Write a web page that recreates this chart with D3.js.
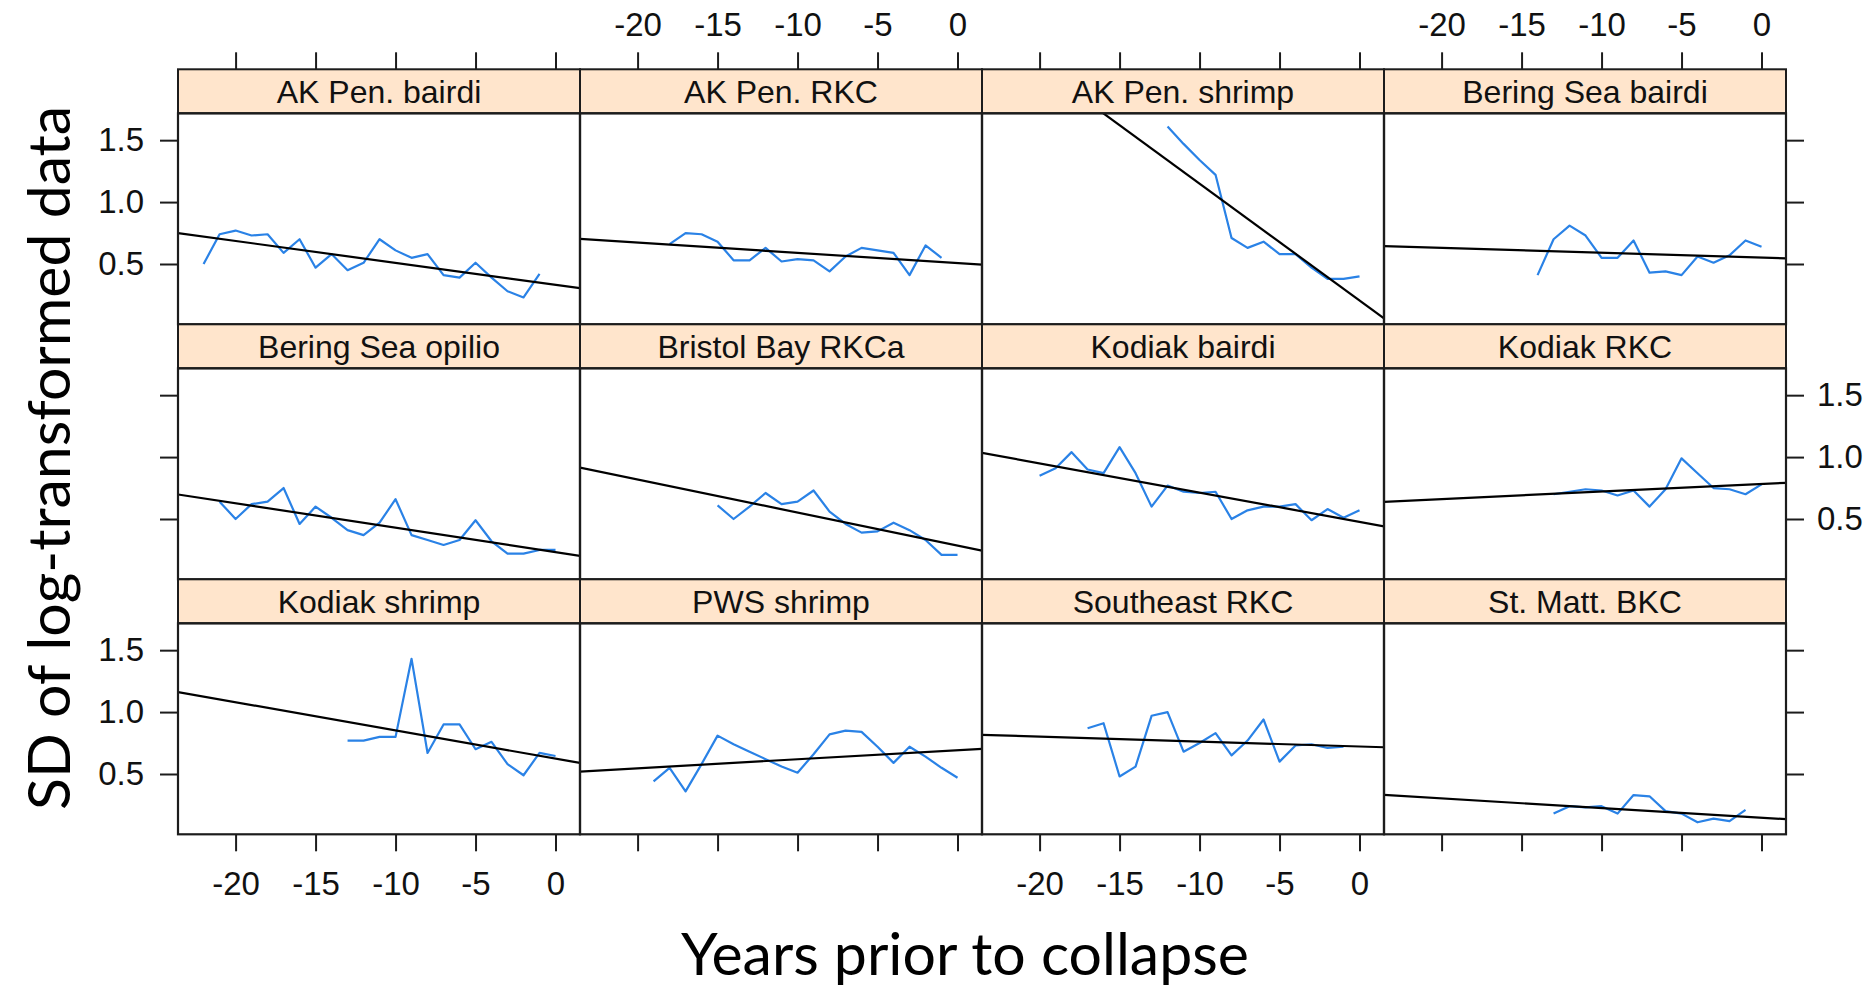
<!DOCTYPE html>
<html>
<head>
<meta charset="utf-8">
<script src="https://cdn.jsdelivr.net/npm/d3@7"></script>
<style>
  html, body { margin: 0; padding: 0; background: #ffffff; }
  svg { display: block; }
</style>
</head>
<body>
<svg id="chart" width="1876" height="987"></svg>
<script>
// ---- Data -------------------------------------------------------------
// Stock names, in panel order (left to right, top to bottom)
const panelNames = [
  "AK Pen. bairdi", "AK Pen. RKC", "AK Pen. shrimp", "Bering Sea bairdi",
  "Bering Sea opilio", "Bristol Bay RKCa", "Kodiak bairdi", "Kodiak RKC",
  "Kodiak shrimp", "PWS shrimp", "Southeast RKC", "St. Matt. BKC"
];

// First year (relative to collapse) of each yearly series
const startYears = [-22, -18, -12, -14, -21, -15, -20, -13, -13, -19, -17, -13];

// SD of log-transformed data, one value per year
const akPenBairdi     = [0.50, 0.74, 0.77, 0.73, 0.74, 0.59, 0.70, 0.47, 0.58, 0.45, 0.51, 0.70, 0.61, 0.55, 0.58, 0.41, 0.39, 0.51, 0.39, 0.28, 0.23, 0.42];
const akPenRKC        = [0.66, 0.75, 0.74, 0.68, 0.53, 0.53, 0.63, 0.52, 0.54, 0.53, 0.44, 0.56, 0.63, 0.61, 0.59, 0.41, 0.65, 0.55];
const akPenShrimp     = [1.61, 1.47, 1.34, 1.22, 0.71, 0.63, 0.68, 0.58, 0.58, 0.47, 0.38, 0.38, 0.40];
const beringBairdi    = [0.41, 0.70, 0.81, 0.73, 0.55, 0.55, 0.69, 0.43, 0.44, 0.41, 0.56, 0.51, 0.57, 0.69, 0.64];
const beringOpilio    = [0.64, 0.50, 0.62, 0.64, 0.75, 0.46, 0.60, 0.51, 0.41, 0.37, 0.47, 0.66, 0.37, 0.33, 0.29, 0.33, 0.49, 0.32, 0.22, 0.22, 0.25, 0.25];
const bristolBayRKCa  = [0.61, 0.50, 0.60, 0.71, 0.62, 0.64, 0.73, 0.56, 0.46, 0.39, 0.40, 0.47, 0.41, 0.33, 0.21, 0.21];
const kodiakBairdi    = [0.85, 0.91, 1.04, 0.90, 0.87, 1.08, 0.87, 0.60, 0.77, 0.72, 0.71, 0.72, 0.50, 0.57, 0.60, 0.60, 0.62, 0.49, 0.58, 0.51, 0.57];
const kodiakRKC       = [0.70, 0.72, 0.74, 0.73, 0.69, 0.73, 0.60, 0.74, 0.99, 0.87, 0.75, 0.74, 0.70, 0.78];
const kodiakShrimp    = [0.77, 0.77, 0.80, 0.80, 1.43, 0.67, 0.90, 0.90, 0.70, 0.76, 0.58, 0.49, 0.67, 0.645];
const pwsShrimp       = [0.44, 0.55, 0.36, 0.58, 0.81, 0.74, 0.68, 0.62, 0.56, 0.51, 0.66, 0.82, 0.85, 0.84, 0.72, 0.59, 0.72, 0.64, 0.55, 0.47];
const southeastRKC    = [0.87, 0.91, 0.48, 0.56, 0.97, 1.00, 0.68, 0.75, 0.83, 0.65, 0.77, 0.94, 0.60, 0.73, 0.74, 0.71, 0.72];
const stMattBKC       = [0.18, 0.24, 0.23, 0.24, 0.18, 0.33, 0.32, 0.20, 0.18, 0.11, 0.14, 0.12, 0.21];

// Fitted linear trend per stock: value at year 0 and change per year
const fitIntercepts = [0.332, 0.507, 0.205, 0.552, 0.233, 0.285, 0.477, 0.783, 0.624, 0.692, 0.722, 0.147];
const fitSlopes     = [-0.0177, -0.0083, -0.0944, -0.0039, -0.0197, -0.0267, -0.0236, 0.0061, -0.0228, 0.0073, -0.0040, -0.0078];

// Axis ticks and titles
const xTicks = [-20, -15, -10, -5, 0];
const yTicks = [0.5, 1.0, 1.5];
const xTitle = "Years prior to collapse";
const yTitle = "SD of log-transformed data";

const series = [
  akPenBairdi, akPenRKC, akPenShrimp, beringBairdi,
  beringOpilio, bristolBayRKCa, kodiakBairdi, kodiakRKC,
  kodiakShrimp, pwsShrimp, southeastRKC, stMattBKC
];

// ---- Layout -----------------------------------------------------------
const nCols = 4, nRows = 3;
const left = 178, panelW = 402;
const top0 = 69.3, rowPitch = 255, stripH = 44, panelH = 211;
const xDomain = [-23.6, 1.53];
const yDomain = [0.013, 1.717];

const ink = "#1c1c1c";
const stripFill = "#ffe5cc";
const lineBlue = "#2a82e6";
const tickFont = "'Liberation Sans', Arial, sans-serif";
const titleFont = "Lato, 'Open Sans', sans-serif";

const svg = d3.select("#chart");
const defs = svg.append("defs");

function xScaleFor(c) {
  const x0 = left + c * panelW;
  return d3.scaleLinear().domain(xDomain).range([x0, x0 + panelW]);
}
function yScaleFor(r) {
  const py = top0 + r * rowPitch + stripH;
  return d3.scaleLinear().domain(yDomain).range([py + panelH, py]);
}

const line = (x, y) => d3.line().x(d => x(d.year)).y(d => y(d.value));

series.forEach((vals, i) => {
  const c = i % nCols, r = Math.floor(i / nCols);
  const x = xScaleFor(c), y = yScaleFor(r);
  const x0 = x.range()[0];
  const sy = top0 + r * rowPitch, py = sy + stripH;

  const g = svg.append("g").attr("class", "panel");

  // clip region for the plotting area
  const clipId = "clip" + i;
  defs.append("clipPath").attr("id", clipId)
    .append("rect").attr("x", x0).attr("y", py).attr("width", panelW).attr("height", panelH);

  // strip with the stock name
  g.append("rect")
    .attr("x", x0).attr("y", sy).attr("width", panelW).attr("height", stripH)
    .attr("fill", stripFill).attr("stroke", ink).attr("stroke-width", 2);
  g.append("text")
    .attr("x", x0 + panelW / 2).attr("y", sy + stripH / 2)
    .attr("dy", "0.36em")
    .attr("text-anchor", "middle")
    .attr("font-family", tickFont).attr("font-size", 32)
    .attr("fill", "#111")
    .text(panelNames[i]);

  const plot = g.append("g").attr("clip-path", `url(#${clipId})`);

  // yearly series
  const pts = vals.map((v, k) => ({ year: startYears[i] + k, value: v }));
  plot.append("path")
    .datum(pts)
    .attr("d", line(x, y))
    .attr("fill", "none")
    .attr("stroke", lineBlue)
    .attr("stroke-width", 2.2)
    .attr("stroke-linejoin", "round");

  // fitted trend across the full x range
  const fit = xDomain.map(t => ({ year: t, value: fitIntercepts[i] + fitSlopes[i] * t }));
  plot.append("path")
    .datum(fit)
    .attr("d", line(x, y))
    .attr("fill", "none")
    .attr("stroke", "#000")
    .attr("stroke-width", 2.2);

  // panel frame
  g.append("rect")
    .attr("x", x0).attr("y", py).attr("width", panelW).attr("height", panelH)
    .attr("fill", "none").attr("stroke", ink).attr("stroke-width", 2.2);
});

// ---- Axes -------------------------------------------------------------
function styleAxis(sel) {
  sel.select(".domain").remove();
  sel.selectAll(".tick line").attr("stroke", ink).attr("stroke-width", 2);
  sel.selectAll(".tick text")
    .attr("font-family", tickFont).attr("font-size", 33).attr("fill", "#111");
}
const xFmt = d => String(d);
const yFmt = d3.format(".1f");

const bottomY = top0 + (nRows - 1) * rowPitch + stripH + panelH;
for (let c = 0; c < nCols; c++) {
  const x = xScaleFor(c);
  // top axis: labels on alternate columns
  svg.append("g")
    .attr("transform", `translate(0,${top0})`)
    .call(d3.axisTop(x).tickValues(xTicks).tickSize(17).tickPadding(16)
      .tickFormat(c % 2 === 1 ? xFmt : () => ""))
    .call(styleAxis);
  // bottom axis: labels on the other columns
  svg.append("g")
    .attr("transform", `translate(0,${bottomY})`)
    .call(d3.axisBottom(x).tickValues(xTicks).tickSize(17).tickPadding(20)
      .tickFormat(c % 2 === 0 ? xFmt : () => ""))
    .call(styleAxis);
}
const rightX = left + nCols * panelW;
for (let r = 0; r < nRows; r++) {
  const y = yScaleFor(r);
  svg.append("g")
    .attr("transform", `translate(${left},0)`)
    .call(d3.axisLeft(y).tickValues(yTicks).tickSize(18).tickPadding(16)
      .tickFormat(r % 2 === 0 ? yFmt : () => ""))
    .call(styleAxis);
  svg.append("g")
    .attr("transform", `translate(${rightX},0)`)
    .call(d3.axisRight(y).tickValues(yTicks).tickSize(18).tickPadding(13)
      .tickFormat(r % 2 === 1 ? yFmt : () => ""))
    .call(styleAxis);
}

// ---- Titles -----------------------------------------------------------
svg.append("text")
  .attr("x", 965).attr("y", 975)
  .attr("text-anchor", "middle")
  .attr("font-family", titleFont).attr("font-size", 59)
  .attr("fill", "#000")
  .text(xTitle);

svg.append("text")
  .attr("transform", "translate(70,458) rotate(-90)")
  .attr("text-anchor", "middle")
  .attr("font-family", titleFont).attr("font-size", 59)
  .attr("fill", "#000")
  .text(yTitle);
</script>
</body>
</html>
